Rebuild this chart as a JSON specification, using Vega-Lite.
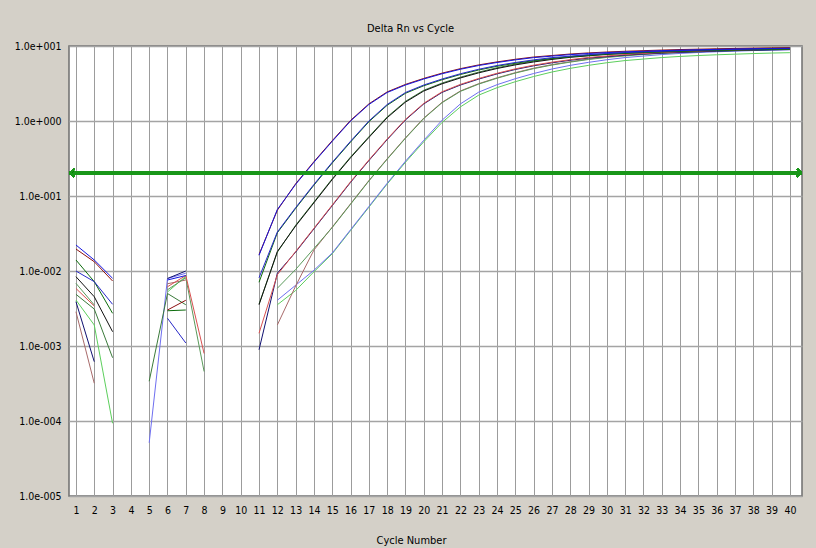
{
  "$schema": "https://vega.github.io/schema/vega-lite/v6.json",
  "width": 733,
  "height": 450,
  "autosize": {"type": "none"},
  "padding": {"left": 69, "top": 46, "right": 14, "bottom": 52},
  "background": "#d4d0c8",
  "title": {"text": "Delta Rn vs Cycle", "font": "Liberation Sans Narrow, DejaVu Sans Condensed, sans-serif", "fontSize": 11, "fontWeight": "normal", "color": "#000000", "anchor": "middle", "dx": -25, "dy": 18, "baseline": "alphabetic", "offset": 16},
  "config": {
    "view": {"stroke": "#6e6e6e", "strokeWidth": 1.5, "fill": "#ffffff"},
    "axis": {"labelFont": "Liberation Sans Narrow, DejaVu Sans Condensed, sans-serif", "labelFontSize": 10.5, "labelColor": "#000000", "titleFont": "Liberation Sans Narrow, DejaVu Sans Condensed, sans-serif", "titleColor": "#000000", "titleFontWeight": "normal", "titleFontSize": 11, "ticks": false, "domain": false}
  },
  "data": {"values": [
    {"cycle": 1, "A1": -1.653, "A2": -1.707, "B1": -2.0, "B2": -1.853, "C1": -2.076, "C2": -2.311, "D1": -2.233, "D2": -2.409, "E1": -2.164, "E2": -2.543, "F2": -2.387},
    {"cycle": 2, "A1": -1.853, "A2": -1.876, "B1": -2.142, "B2": -2.142, "C1": -2.343, "C2": -2.507, "D1": -2.467, "D2": -3.209, "E1": -2.453, "E2": -3.497, "F2": -2.72},
    {"cycle": 3, "A1": -2.097, "A2": -2.133, "B1": -2.444, "B2": -2.564, "C1": -2.809, "C2": -3.156, "F2": -4.03},
    {"cycle": 4},
    {"cycle": 5, "F1": -4.29, "C2": -3.47},
    {"cycle": 6, "F1": -2.10, "C2": -2.30, "D2": -2.10, "A1": -2.12, "D1": -2.21, "E1": -2.25, "A2": -2.52, "B2": -2.53, "B1": -2.63, "E2": -2.17, "F2": -2.28},
    {"cycle": 7, "F1": -2.03, "C2": -2.45, "D2": -2.0, "A1": -2.06, "D1": -2.06, "E1": -2.09, "A2": -2.39, "B2": -2.52, "B1": -2.96, "E2": -2.12, "F2": -2.07},
    {"cycle": 8, "D1": -3.10, "E1": -3.34},
    {"cycle": 9},
    {"cycle": 10},
    {"cycle": 11, "A1": -1.79, "A2": -1.78, "B1": -2.09, "B2": -2.15, "C1": -2.45, "C2": -2.44, "D1": -2.83, "D2": -3.05},
    {"cycle": 12, "A1": -1.18, "A2": -1.19, "B1": -1.48, "B2": -1.49, "C1": -1.74, "C2": -1.75, "D1": -2.05, "D2": -2.03, "E1": -2.23, "E2": -2.72, "F1": -2.39, "F2": -2.45},
    {"cycle": 13, "A1": -0.845, "A2": -0.837, "B1": -1.155, "B2": -1.165, "C1": -1.40, "C2": -1.39, "D1": -1.74, "D2": -1.748, "E1": -1.98, "E2": -2.20, "F1": -2.19, "F2": -2.26},
    {"cycle": 14, "A1": -0.55, "A2": -0.542, "B1": -0.845, "B2": -0.855, "C1": -1.09, "C2": -1.08, "D1": -1.43, "D2": -1.438, "E1": -1.70, "E2": -1.72, "F1": -1.99, "F2": -2.01},
    {"cycle": 15, "A1": -0.27, "A2": -0.262, "B1": -0.55, "B2": -0.56, "C1": -0.78, "C2": -0.77, "D1": -1.12, "D2": -1.128, "E1": -1.42, "E2": -1.414, "F1": -1.76, "F2": -1.77},
    {"cycle": 16, "A1": 0.0, "A2": 0.008, "B1": -0.27, "B2": -0.28, "C1": -0.49, "C2": -0.48, "D1": -0.81, "D2": -0.818, "E1": -1.11, "E2": -1.104, "F1": -1.45, "F2": -1.46},
    {"cycle": 17, "A1": 0.22, "A2": 0.228, "B1": 0.0, "B2": -0.01, "C1": -0.22, "C2": -0.21, "D1": -0.52, "D2": -0.528, "E1": -0.80, "E2": -0.794, "F1": -1.14, "F2": -1.15},
    {"cycle": 18, "A1": 0.38, "A2": 0.388, "B1": 0.22, "B2": 0.21, "C1": 0.044, "C2": 0.054, "D1": -0.24, "D2": -0.248, "E1": -0.51, "E2": -0.504, "F1": -0.83, "F2": -0.84},
    {"cycle": 19, "A1": 0.48, "A2": 0.488, "B1": 0.38, "B2": 0.37, "C1": 0.252, "C2": 0.262, "D1": 0.022, "D2": 0.014, "E1": -0.23, "E2": -0.224, "F1": -0.536, "F2": -0.55},
    {"cycle": 20, "A1": 0.56, "A2": 0.568, "B1": 0.48, "B2": 0.47, "C1": 0.40, "C2": 0.41, "D1": 0.236, "D2": 0.228, "E1": 0.033, "E2": 0.039, "F1": -0.257, "F2": -0.277},
    {"cycle": 21, "A1": 0.63, "A2": 0.638, "B1": 0.56, "B2": 0.55, "C1": 0.496, "C2": 0.506, "D1": 0.39, "D2": 0.382, "E1": 0.244, "E2": 0.25, "F1": 0.011, "F2": -0.019},
    {"cycle": 22, "A1": 0.69, "A2": 0.698, "B1": 0.63, "B2": 0.62, "C1": 0.574, "C2": 0.584, "D1": 0.488, "D2": 0.48, "E1": 0.395, "E2": 0.401, "F1": 0.228, "F2": 0.188},
    {"cycle": 23, "A1": 0.74, "A2": 0.748, "B1": 0.69, "B2": 0.68, "C1": 0.642, "C2": 0.652, "D1": 0.567, "D2": 0.559, "E1": 0.492, "E2": 0.498, "F1": 0.385, "F2": 0.345},
    {"cycle": 24, "A1": 0.78, "A2": 0.788, "B1": 0.74, "B2": 0.73, "C1": 0.70, "C2": 0.71, "D1": 0.636, "D2": 0.628, "E1": 0.57, "E2": 0.576, "F1": 0.484, "F2": 0.444},
    {"cycle": 25, "A1": 0.815, "A2": 0.823, "B1": 0.78, "B2": 0.77, "C1": 0.748, "C2": 0.758, "D1": 0.695, "D2": 0.687, "E1": 0.639, "E2": 0.645, "F1": 0.564, "F2": 0.524},
    {"cycle": 26, "A1": 0.845, "A2": 0.853, "B1": 0.815, "B2": 0.805, "C1": 0.787, "C2": 0.797, "D1": 0.744, "D2": 0.736, "E1": 0.698, "E2": 0.704, "F1": 0.633, "F2": 0.593},
    {"cycle": 27, "A1": 0.865, "A2": 0.873, "B1": 0.845, "B2": 0.835, "C1": 0.821, "C2": 0.831, "D1": 0.784, "D2": 0.776, "E1": 0.746, "E2": 0.752, "F1": 0.693, "F2": 0.653},
    {"cycle": 28, "A1": 0.885, "A2": 0.893, "B1": 0.865, "B2": 0.855, "C1": 0.849, "C2": 0.859, "D1": 0.818, "D2": 0.81, "E1": 0.785, "E2": 0.791, "F1": 0.742, "F2": 0.702},
    {"cycle": 29, "A1": 0.90, "A2": 0.908, "B1": 0.885, "B2": 0.875, "C1": 0.869, "C2": 0.879, "D1": 0.847, "D2": 0.839, "E1": 0.82, "E2": 0.826, "F1": 0.782, "F2": 0.742},
    {"cycle": 30, "A1": 0.912, "A2": 0.92, "B1": 0.90, "B2": 0.89, "C1": 0.888, "C2": 0.898, "D1": 0.867, "D2": 0.859, "E1": 0.848, "E2": 0.854, "F1": 0.817, "F2": 0.777},
    {"cycle": 31, "A1": 0.922, "A2": 0.93, "B1": 0.912, "B2": 0.902, "C1": 0.902, "C2": 0.912, "D1": 0.887, "D2": 0.879, "E1": 0.868, "E2": 0.874, "F1": 0.846, "F2": 0.806},
    {"cycle": 32, "A1": 0.93, "A2": 0.938, "B1": 0.922, "B2": 0.912, "C1": 0.914, "C2": 0.924, "D1": 0.901, "D2": 0.893, "E1": 0.887, "E2": 0.893, "F1": 0.866, "F2": 0.826},
    {"cycle": 33, "A1": 0.938, "A2": 0.946, "B1": 0.93, "B2": 0.92, "C1": 0.924, "C2": 0.934, "D1": 0.913, "D2": 0.905, "E1": 0.902, "E2": 0.908, "F1": 0.886, "F2": 0.846},
    {"cycle": 34, "A1": 0.945, "A2": 0.953, "B1": 0.938, "B2": 0.928, "C1": 0.932, "C2": 0.942, "D1": 0.923, "D2": 0.915, "E1": 0.913, "E2": 0.919, "F1": 0.901, "F2": 0.861},
    {"cycle": 35, "A1": 0.95, "A2": 0.958, "B1": 0.945, "B2": 0.935, "C1": 0.939, "C2": 0.949, "D1": 0.931, "D2": 0.923, "E1": 0.923, "E2": 0.929, "F1": 0.913, "F2": 0.873},
    {"cycle": 36, "A1": 0.955, "A2": 0.963, "B1": 0.95, "B2": 0.94, "C1": 0.946, "C2": 0.956, "D1": 0.939, "D2": 0.931, "E1": 0.931, "E2": 0.937, "F1": 0.923, "F2": 0.883},
    {"cycle": 37, "A1": 0.96, "A2": 0.968, "B1": 0.955, "B2": 0.945, "C1": 0.951, "C2": 0.961, "D1": 0.946, "D2": 0.938, "E1": 0.939, "E2": 0.945, "F1": 0.931, "F2": 0.891},
    {"cycle": 38, "A1": 0.964, "A2": 0.972, "B1": 0.96, "B2": 0.95, "C1": 0.956, "C2": 0.966, "D1": 0.951, "D2": 0.943, "E1": 0.945, "E2": 0.951, "F1": 0.939, "F2": 0.899},
    {"cycle": 39, "A1": 0.967, "A2": 0.975, "B1": 0.964, "B2": 0.954, "C1": 0.961, "C2": 0.971, "D1": 0.956, "D2": 0.948, "E1": 0.95, "E2": 0.956, "F1": 0.946, "F2": 0.906},
    {"cycle": 40, "A1": 0.97, "A2": 0.978, "B1": 0.967, "B2": 0.957, "C1": 0.965, "C2": 0.975, "D1": 0.96, "D2": 0.952, "E1": 0.955, "E2": 0.961, "F1": 0.951, "F2": 0.911}
  ]},
  "layer": [
    {
      "transform": [{"fold": ["F2", "F1", "E2", "E1", "D2", "D1", "C2", "C1", "B2", "B1", "A2", "A1"], "as": ["well", "log10_delta_rn"]}],
      "mark": {"type": "line", "strokeWidth": 1, "invalid": "break-paths-filter-domains"},
      "encoding": {
        "x": {"field": "cycle", "type": "quantitative",
          "scale": {"domain": [0.62, 40.66], "nice": false, "zero": false},
          "axis": {"values": [1,2,3,4,5,6,7,8,9,10,11,12,13,14,15,16,17,18,19,20,21,22,23,24,25,26,27,28,29,30,31,32,33,34,35,36,37,38,39,40],
            "tickCount": 60, "format": "d", "grid": true, "gridColor": "#9c9c9c", "gridWidth": 1, "labelPadding": 9, "labelOverlap": false, "labelFlush": false,
            "title": "Cycle Number", "titleBaseline": "top", "titleY": 38, "titleX": 342, "titleAnchor": "start", "titleAlign": "center"}},
        "y": {"field": "log10_delta_rn", "type": "quantitative",
          "scale": {"domain": [-5, 1], "nice": false, "zero": false},
          "axis": {"values": [-5, -4, -3, -2, -1, 0, 1], "tickCount": 10, "labelExpr": "'1.0e' + (datum.value < 0 ? '-' : '+') + '00' + abs(datum.value)",
            "grid": true, "gridColor": "#a4a4a4", "gridWidth": 1.5, "labelPadding": 8, "title": null}},
        "color": {"field": "well", "type": "nominal", "legend": null,
          "scale": {"domain": ["A1", "A2", "B1", "B2", "C1", "C2", "D1", "D2", "E1", "E2", "F1", "F2"],
            "range": ["#1515e0", "#8b1010", "#2828c8", "#0b6b0b", "#101010", "#3a7a3a", "#d85050", "#101070", "#5a9a5a", "#a86a6a", "#6e6ef0", "#5ccf5c"]}}
      }
    },
    {
      "mark": {"type": "rule", "color": "#1a961a", "strokeWidth": 3},
      "encoding": {"y": {"datum": -0.69}}
    },
    {
      "mark": {"type": "point", "shape": "M0.5,-1L-0.5,0L0.5,1", "filled": false, "stroke": "#1a961a", "strokeWidth": 1.5, "size": 60, "opacity": 1},
      "encoding": {"x": {"datum": 0.8}, "y": {"datum": -0.69}}
    },
    {
      "mark": {"type": "point", "shape": "M-0.5,-1L0.5,0L-0.5,1", "filled": false, "stroke": "#1a961a", "strokeWidth": 1.5, "size": 60, "opacity": 1},
      "encoding": {"x": {"datum": 40.5}, "y": {"datum": -0.69}}
    }
  ]
}
